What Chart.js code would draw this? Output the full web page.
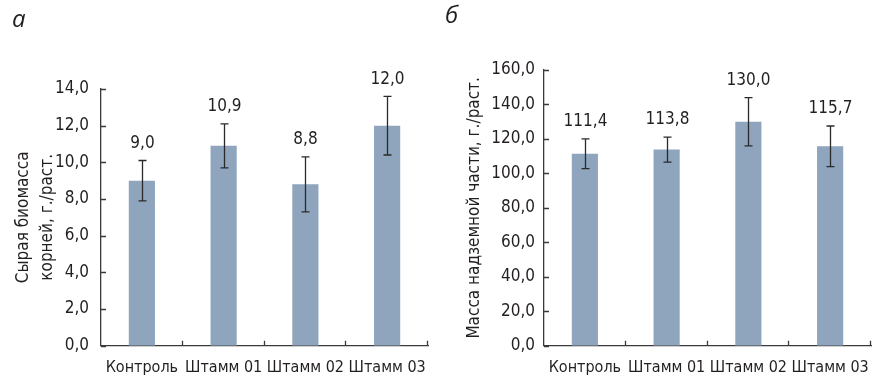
<!DOCTYPE html>
<html>
<head>
<meta charset="utf-8">
<script src="https://cdn.jsdelivr.net/npm/chart.js@4/dist/chart.umd.min.js"></script>
<style>
  body { margin: 0; background: #fff; }
  .panel { position: absolute; top: 0; height: 380px; }
</style>
</head>
<body>
<div class="panel" style="left:0;width:440px"><canvas id="chartA"></canvas></div>
<div class="panel" style="left:440px;width:442px"><canvas id="chartB"></canvas></div>
<script>
const categories = ['Контроль', 'Штамм 01', 'Штамм 02', 'Штамм 03'];

const rootMass = [9.0, 10.9, 8.8, 12.0];
const rootErr = [1.1, 1.2, 1.5, 1.6];

const shootMass = [111.4, 113.8, 130.0, 115.7];
const shootErr = [8.6, 7.3, 14.0, 11.8];

const FONT = "'DejaVu Sans Condensed', 'Liberation Sans Narrow', sans-serif";
const INK = '#231f20';
const AXIS = '#3a3a3a';
const BAR = '#8ea5bd';

const fmt = v => v.toFixed(1).replace('.', ',');

// error bars, value labels and inward tick marks
const decor = {
    id: 'decor',
    afterDatasetsDraw(chart, args, opts) {
        const { ctx, scales: { x, y } } = chart;
        const vals = chart.data.datasets[0].data;
        ctx.save();
        ctx.strokeStyle = '#2a2a2a';
        ctx.lineWidth = 1.3;
        ctx.fillStyle = INK;
        ctx.font = '17px ' + FONT;
        ctx.textAlign = 'center';
        ctx.textBaseline = 'middle';
        vals.forEach((v, i) => {
            const e = opts.errors[i];
            const px = Math.round(x.getPixelForValue(i)) + 0.5;
            const top = y.getPixelForValue(v + e);
            const bot = y.getPixelForValue(v - e);
            ctx.beginPath();
            ctx.moveTo(px, top); ctx.lineTo(px, bot);
            ctx.moveTo(px - 4, top); ctx.lineTo(px + 4, top);
            ctx.moveTo(px - 4, bot); ctx.lineTo(px + 4, bot);
            ctx.stroke();
            ctx.fillText(fmt(v), px, top - 17);
        });
        // inward ticks
        ctx.strokeStyle = AXIS;
        ctx.lineWidth = 1.3;
        ctx.beginPath();
        y.ticks.forEach(t => {
            const py = Math.round(y.getPixelForValue(t.value)) + 0.5;
            ctx.moveTo(x.left, py); ctx.lineTo(x.left + 5, py);
        });
        const half = (x.right - x.left) / vals.length / 2;
        vals.forEach((v, i) => {
            const px = Math.round(x.getPixelForValue(i) + half) - 0.5;
            ctx.moveTo(px, y.bottom); ctx.lineTo(px, y.bottom - 5);
        });
        ctx.stroke();
        ctx.restore();
    }
};

function makeChart(id, cfg) {
    return new Chart(document.getElementById(id), {
        type: 'bar',
        data: {
            labels: categories,
            datasets: [{
                data: cfg.values,
                backgroundColor: BAR,
                categoryPercentage: 1,
                barPercentage: 0.32
            }]
        },
        plugins: [decor],
        options: {
            responsive: true,
            maintainAspectRatio: false,
            animation: false,
            layout: { padding: { left: cfg.padLeft, right: cfg.padRight, top: 0, bottom: 0 } },
            plugins: {
                legend: { display: false },
                tooltip: { enabled: false },
                title: {
                    display: true,
                    text: cfg.letter,
                    align: 'start',
                    color: INK,
                    font: { family: 'Open Sans', size: 24, style: 'italic', weight: 'normal', lineHeight: 1.2 },
                    padding: { top: cfg.letterTop, bottom: cfg.letterBottom }
                },
                decor: { errors: cfg.errors }
            },
            scales: {
                x: {
                    grid: { display: false },
                    border: { display: true, color: AXIS, width: 1.3 },
                    ticks: {
                        color: INK, autoSkip: false, maxRotation: 0, padding: 5,
                        font: { family: FONT, size: 16 }
                    },
                    afterFit: s => { s.height = cfg.xHeight; }
                },
                y: {
                    min: 0, max: cfg.max,
                    grid: { display: false, drawTicks: false },
                    border: { display: true, color: AXIS, width: 1.3 },
                    ticks: {
                        stepSize: cfg.step, color: INK, padding: cfg.tickPad,
                        font: { family: FONT, size: 17 },
                        callback: v => fmt(v)
                    },
                    title: {
                        display: true,
                        text: cfg.yTitle,
                        color: INK,
                        font: { family: FONT, size: 17, lineHeight: '24px' },
                        padding: { top: cfg.titlePad, bottom: 0 }
                    },
                    afterFit: s => { s.width = cfg.yWidth; }
                }
            }
        }
    });
}

makeChart('chartA', {
    values: rootMass, errors: rootErr, max: 14, step: 2,
    letter: 'а', letterTop: 6, letterBottom: 54.2,
    padLeft: 12, padRight: 12, yWidth: 89, tickPad: 12, titlePad: 0,
    xHeight: 34.3,
    yTitle: ['Сырая биомасса', 'корней, г./раст.']
});

makeChart('chartB', {
    values: shootMass, errors: shootErr, max: 160, step: 20,
    letter: 'б', letterTop: 2, letterBottom: 39.2,
    padLeft: 5, padRight: 11, yWidth: 99, tickPad: 9, titlePad: 18,
    xHeight: 34.3,
    yTitle: 'Масса надземной части, г./раст.'
});
</script>
</body>
</html>
